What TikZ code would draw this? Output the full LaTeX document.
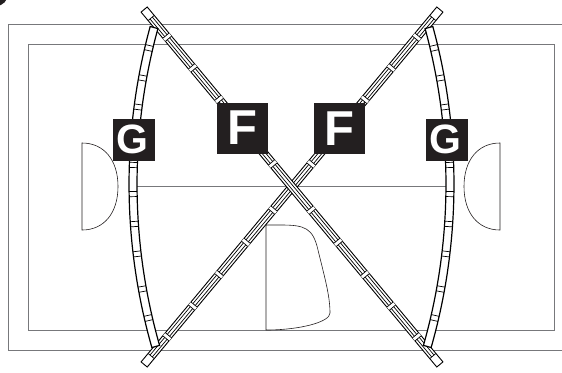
\documentclass[tikz,border=0pt]{standalone}
\usepackage{fontspec}
\setmainfont{Liberation Sans}
\usetikzlibrary{positioning}
\definecolor{courtgrey}{HTML}{77787B}
\definecolor{boxblack}{HTML}{231F20}
\tikzset{
  court/.style={draw=courtgrey, line width=0.5pt},
  zone/.style={draw=boxblack, line width=0.3pt},
  rail/.style={draw=black, line width=0.45pt, fill=white},
  bowrail/.style={draw=black, line width=0.6pt, fill=white},
  railline/.style={draw=black, line width=0.35pt},
  signbox/.style={fill=boxblack, text=white, inner sep=0pt, font=\bfseries},
  fbox/.style={signbox, minimum size=25.5pt},
  gbox/.style={signbox, minimum size=21pt}
}
\newcommand{\fsize}{\fontsize{24.5}{24.5}\selectfont}
\newcommand{\gsize}{\fontsize{20.5}{20.5}\selectfont}
\begin{document}
\begin{tikzpicture}[x=0.5pt,y=-0.5pt]
  \clip (0,0) rectangle (562,372);
  \fill[boxblack] (-4,-6) circle (12);
  % court lines
  \draw[court] (600,24) -- (8.5,24) -- (8.5,350) -- (600,350);
  \draw[court] (28,44) rectangle (554,330);
  \draw[court] (135,186.5) -- (447,186.5);
  % zones
  \draw[zone] (82,143) .. controls (104,143) and (118,160) .. (118,186.5)
              .. controls (118,213) and (104,230) .. (82,230) -- cycle;
  \draw[zone] (500,143) .. controls (478,143) and (464,160) .. (464,186.5)
              .. controls (464,213) and (478,230) .. (500,230) -- cycle;
  \draw[zone] (266,225) -- (281,225) .. controls (305,225) and (313,228) .. (318,250)
              .. controls (324,275) and (330,295) .. (330,313)
              .. controls (330,322) and (300,330) .. (266,330) -- cycle;
  % diagonal rails
  \foreach \rot in {50.2,129.8}{
    \begin{scope}[shift={(292,187)},rotate=\rot]
      \draw[rail] (-231,-4) rectangle (231,4);
      \draw[railline] (-220,-1.5) -- (220,-1.5) (-220,1.5) -- (220,1.5);
      \draw[railline] (-220,-4) -- (-220,4) (220,-4) -- (220,4);
      \foreach \d in {30,72,114,155,195}{
        \fill[white] (\d-2,-4) rectangle (\d+2,4) (-\d-2,-4) rectangle (-\d+2,4);
        \draw[railline] (\d-2,-4) -- (\d-2,4) (\d+2,-4) -- (\d+2,4);
        \draw[railline] (-\d-2,-4) -- (-\d-2,4) (-\d+2,-4) -- (-\d+2,4);
      }
    \end{scope}
  }
  % curved rails
  \foreach \cx/\base/\sgn in {726/180/-1,-143/0/1}{
    \begin{scope}[shift={(\cx,184)}]
      \draw[bowrail] (\base-\sgn*15.3:589) arc[start angle=\base-\sgn*15.3, end angle=\base+\sgn*15.9, radius=589]
                  -- (\base+\sgn*15.9:597) arc[start angle=\base+\sgn*15.9, end angle=\base-\sgn*15.3, radius=597] -- cycle;
      \foreach \a in {-13.26,-10.3,-7.46,-4.7,-1.84,0.97,3.87,6.77,10.2,13.06}{
        \draw[railline] (\base+\sgn*\a-0.25:589) -- (\base+\sgn*\a-0.25:597);
        \draw[railline] (\base+\sgn*\a+0.25:589) -- (\base+\sgn*\a+0.25:597);
      }
    \end{scope}
  }
  % signs
  \node[fbox, font=\bfseries\fsize] (fl) at (242.5,128) {F};
  \node[fbox, font=\bfseries\fsize] (fr) at (339,128.5) {F};
  \node[gbox, font=\bfseries\gsize] (gl) at (134,139.5) {G\kern2pt};
  \node[gbox, font=\bfseries\gsize] (gr) at (447,139.5) {G\kern2pt};
\end{tikzpicture}
\end{document}
